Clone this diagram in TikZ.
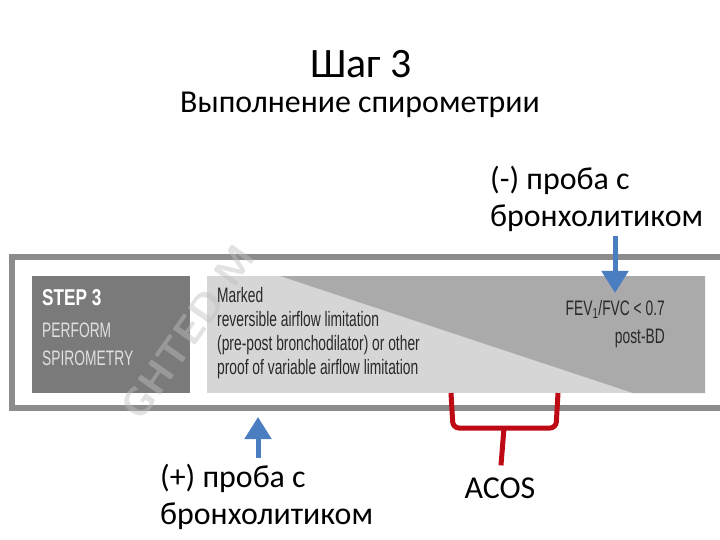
\documentclass[tikz,border=0pt]{standalone}
\usepackage{fontspec}
\setmainfont{Carlito}
\newfontfamily\narrowfont[FakeStretch=0.75]{Liberation Sans}
\newfontfamily\narrowerfont[FakeStretch=0.66]{Liberation Sans}
\usetikzlibrary{arrows.meta,positioning,calc}
\definecolor{framegray}{RGB}{140,140,140}
\definecolor{stepgray}{RGB}{122,122,122}
\definecolor{panellight}{RGB}{214,214,214}
\definecolor{paneldark}{RGB}{170,170,170}
\definecolor{arrowblue}{RGB}{74,126,193}
\definecolor{bracketred}{RGB}{190,10,20}
\definecolor{captiongray}{RGB}{40,40,40}
\tikzset{
  titletext/.style={font=\fontsize{42}{46}\selectfont, inner sep=0pt},
  slidetext/.style={font=\fontsize{32}{37}\selectfont, align=left, inner sep=0pt, anchor=north west},
  steptext/.style={font=\narrowerfont\fontsize{21}{24}\selectfont, align=left, inner sep=0pt, anchor=north west},
  bluearrow/.style={draw=arrowblue, line width=5bp, -{Triangle[length=22bp, width=26bp]}},
  bracket/.style={draw=bracketred, line width=5bp, rounded corners=6bp}
}
\begin{document}
\begin{tikzpicture}[x=1bp, y=-1bp]
\useasboundingbox[fill=white] (0,0) rectangle (720,540);

% Headings
\node[titletext] (title) at (361,64) {Шаг 3};
\node[titletext, font=\fontsize{32}{37}\selectfont] (subtitle) at (360,105) {Выполнение спирометрии};
\node[slidetext] (minus) at (490,166) {(-) проба с\\бронхолитиком};

% Banner
\draw[framegray, line width=6bp] (12,257) rectangle (730,408);
\fill[stepgray] (32,276) rectangle (190,393);
\fill[panellight] (207,276) rectangle (705,393);
\fill[paneldark] (280,276) -- (705,276) -- (705,393) -- (633,393) -- cycle;

% Watermark
\node[rotate=55, text=black!25, opacity=0.45, font=\sffamily\bfseries\fontsize{40}{40}\selectfont] (mark) at (188,332) {GHTED M};

% Banner texts
\node[steptext, text=white, font=\narrowfont\bfseries\fontsize{23}{24}\selectfont] (stephead) at (42,289) {STEP 3};
\node[steptext, text=black!12] (perform) at (42,323) {PERFORM};
\node[steptext, text=black!12] (spiro) at (42,351) {SPIROMETRY};
\node[steptext, text=captiongray] (marked) at (217,287) {Marked\\reversible airflow limitation\\(pre-post bronchodilator) or other\\proof of variable airflow limitation};
\node[steptext, text=captiongray, font=\narrowerfont\fontsize{21}{28}\selectfont, anchor=north east, align=right] (fev) at (665,300) {FEV\textsubscript{1}/FVC < 0.7\\post-BD};

% Captions
\node[slidetext] (plus) at (160,464) {(+) проба с\\бронхолитиком};
\node[titletext, font=\fontsize{32}{37}\selectfont] (acos) at (500,488) {ACOS};

% Arrows
\coordinate (negtip) at (615,293);
\coordinate (postip) at (258,417);
\draw[bluearrow, shorten <=4bp] (negtip |- minus.south) -- (negtip);
\draw[bluearrow, shorten <=6bp] (postip |- plus.north) -- (postip);

% Bracket
\coordinate (acosleft) at (451,393);
\coordinate (acosright) at (558,393);
\draw[bracket] (acosleft) -- (453,428) -- (556,428) -- (acosright);
\draw[bracket, shorten >=12bp] (504,428) -- (acos.north);
\end{tikzpicture}
\end{document}
